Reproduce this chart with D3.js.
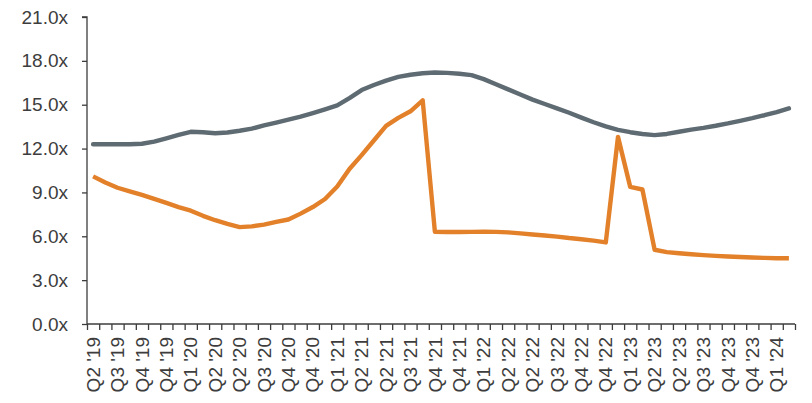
<!DOCTYPE html>
<html>
<head>
<meta charset="utf-8">
<script src="https://cdn.jsdelivr.net/npm/d3@7"></script>
<style>
  html, body { margin: 0; padding: 0; background: #fff; }
  svg { display: block; }
  .axis text { font-family: "Liberation Sans", Arial, sans-serif; fill: #3d3d3d; }
  .axis path, .axis line { stroke: #3d3d3d; stroke-width: 1.3; }
</style>
</head>
<body>
<svg id="chart" width="812" height="403"></svg>
<script>
// Monthly categories, Jun '19 through Mar '24, named by quarter
const categories = [
  "Q2 '19","Q3 '19","Q3 '19","Q3 '19","Q4 '19","Q4 '19","Q4 '19",
  "Q1 '20","Q1 '20","Q1 '20","Q2 '20","Q2 '20","Q2 '20","Q3 '20","Q3 '20","Q3 '20","Q4 '20","Q4 '20","Q4 '20",
  "Q1 '21","Q1 '21","Q1 '21","Q2 '21","Q2 '21","Q2 '21","Q3 '21","Q3 '21","Q3 '21","Q4 '21","Q4 '21","Q4 '21",
  "Q1 '22","Q1 '22","Q1 '22","Q2 '22","Q2 '22","Q2 '22","Q3 '22","Q3 '22","Q3 '22","Q4 '22","Q4 '22","Q4 '22",
  "Q1 '23","Q1 '23","Q1 '23","Q2 '23","Q2 '23","Q2 '23","Q3 '23","Q3 '23","Q3 '23","Q4 '23","Q4 '23","Q4 '23",
  "Q1 '24","Q1 '24","Q1 '24"
];

// Grey series (multiple, x)
const greySeries = [
  12.30, 12.30, 12.30, 12.30, 12.33, 12.48, 12.70, 12.93, 13.15, 13.12,
  13.05, 13.10, 13.22, 13.36, 13.58, 13.78, 13.98, 14.18, 14.42, 14.68,
  14.95, 15.45, 16.00, 16.35, 16.65, 16.90, 17.05, 17.15, 17.20, 17.18,
  17.12, 17.02, 16.75, 16.40, 16.05, 15.70, 15.35, 15.05, 14.75, 14.45,
  14.12, 13.80, 13.52, 13.28, 13.12, 13.00, 12.92, 13.00, 13.15, 13.30,
  13.42, 13.56, 13.72, 13.90, 14.08, 14.28, 14.50, 14.75
];

// Orange series (multiple, x)
const orangeSeries = [
  10.10, 9.68, 9.32, 9.07, 8.83, 8.56, 8.28, 8.00, 7.75, 7.40,
  7.10, 6.85, 6.63, 6.68, 6.80, 6.98, 7.15, 7.55, 8.00, 8.55,
  9.40, 10.60, 11.55, 12.55, 13.55, 14.10, 14.55, 15.30, 6.30, 6.29,
  6.29, 6.30, 6.31, 6.30, 6.27, 6.20, 6.12, 6.05, 5.98, 5.88,
  5.80, 5.70, 5.58, 12.80, 9.38, 9.20, 5.08, 4.92, 4.84, 4.77,
  4.71, 4.66, 4.62, 4.58, 4.55, 4.52, 4.50, 4.50
];

const yTicks = [0, 3, 6, 9, 12, 15, 18, 21];

const svg = d3.select("#chart");
const margin = { left: 87, right: 17, top: 17, bottom: 79 };
const W = 812, H = 403;

const idx = d3.range(categories.length);
const x = d3.scaleBand().domain(idx).range([margin.left, W - margin.right]).padding(0);
const xEdge = d3.scaleLinear().domain([0, categories.length]).range([margin.left, W - margin.right]);
const y = d3.scaleLinear().domain([0, 21]).range([H - margin.bottom, margin.top]);

// y axis
svg.append("g")
  .attr("class", "axis")
  .attr("transform", `translate(${margin.left},0)`)
  .call(d3.axisLeft(y).tickValues(yTicks).tickSize(5).tickPadding(14)
    .tickFormat(d => d.toFixed(1) + "x"))
  .call(g => g.selectAll("text").style("font-size", "19px"))
  .call(g => g.select(".domain").attr("d", `M-5,${y(21)}H0V${y(0)}`));

// x axis: tick marks between categories
svg.append("g")
  .attr("class", "axis")
  .attr("transform", `translate(0,${y(0)})`)
  .call(d3.axisBottom(xEdge).tickValues(d3.range(categories.length + 1)).tickSize(6).tickFormat(""))
  .call(g => g.select(".domain").attr("d", `M${xEdge(0)},0H${xEdge(categories.length)}`));

// x labels: every other category, rotated
svg.append("g")
  .attr("class", "axis")
  .attr("transform", `translate(0,${y(0)})`)
  .call(d3.axisBottom(x).tickValues(idx.filter(i => i % 2 === 0)).tickSize(0)
    .tickFormat(i => categories[i]))
  .call(g => g.select(".domain").remove())
  .call(g => g.selectAll("text")
    .style("font-size", "19px")
    .attr("text-anchor", "end")
    .attr("dy", "0.35em")
    .attr("transform", "translate(0,13) rotate(-90)")
    .attr("x", 0).attr("y", 0));

const cx = i => x(i) + x.bandwidth() / 2;
const line = d3.line().x((d, i) => cx(i)).y(d => y(d));

svg.append("path")
  .datum(greySeries)
  .attr("fill", "none")
  .attr("stroke", "#5f6b72")
  .attr("stroke-width", 4.4)
  .attr("stroke-linejoin", "round")
  .attr("stroke-linecap", "round")
  .attr("d", line);

svg.append("path")
  .datum(orangeSeries)
  .attr("fill", "none")
  .attr("stroke", "#e3802a")
  .attr("stroke-width", 4.4)
  .attr("stroke-linejoin", "round")
  .attr("stroke-linecap", "butt")
  .attr("d", line);
</script>
</body>
</html>
